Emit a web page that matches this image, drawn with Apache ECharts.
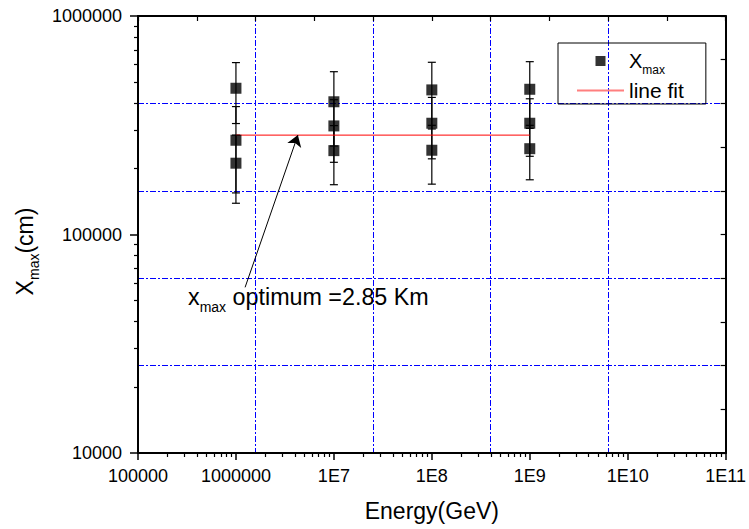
<!DOCTYPE html>
<html>
<head>
<meta charset="utf-8">
<script src="https://cdn.jsdelivr.net/npm/echarts@6/dist/echarts.min.js"></script>
<style>
  html, body { margin: 0; padding: 0; background: #fff; }
  #main { width: 749px; height: 529px; }
</style>
</head>
<body>
<div id="main"></div>
<script>
// energies (GeV) and the three Xmax points at each one (cm), with errors
var energy = [1e6, 1e7, 1e8, 1e9];
var xmaxA = [467000, 405000, 459000, 462000];
var errA  = [145000, 151000, 155000, 156000];
var xmaxB = [270000, 314000, 323000, 323000];
var errB  = [115000, 100000, 101000, 95000];
var xmaxC = [212000, 242000, 243000, 247000];
var errC  = [73000, 73000, 73000, 69000];

// horizontal fit
var fitX = [1e6, 1e9];
var fitY = [285000, 285000];

// arrow of the annotation (data coords)
var arrowFrom = [1.24e6, 57300];
var arrowTo = [4.29e6, 285000];

var xTickLabels = ['100000', '1000000', '1E7', '1E8', '1E9', '1E10', '1E11'];
var yTickLabels = ['10000', '100000', '1000000'];
var xMajor = [1e5, 1e6, 1e7, 1e8, 1e9, 1e10, 1e11];

var FONT = 'Liberation Sans, Arial, sans-serif';

// minor ticks 2..9 of every decade
function minorTicks(e0, e1) {
  var out = [];
  for (var e = e0; e < e1; e++) {
    for (var m = 2; m <= 9; m++) out.push(m * Math.pow(10, e));
  }
  return out;
}

var points = [];
var bars = [];
[[xmaxA, errA], [xmaxB, errB], [xmaxC, errC]].forEach(function (s) {
  for (var i = 0; i < energy.length; i++) {
    points.push([energy[i], s[0][i]]);
    bars.push([energy[i], s[0][i] - s[1][i], s[0][i] + s[1][i]]);
  }
});

function renderErr(params, api) {
  var x = api.value(0);
  var p1 = api.coord([x, api.value(2)]);
  var p2 = api.coord([x, api.value(1)]);
  var w = 4;
  var st = { stroke: '#000000', lineWidth: 1.2 };
  return {
    type: 'group',
    children: [
      { type: 'line', shape: { x1: p1[0], y1: p1[1], x2: p2[0], y2: p2[1] }, style: st },
      { type: 'line', shape: { x1: p1[0] - w, y1: p1[1], x2: p1[0] + w, y2: p1[1] }, style: st },
      { type: 'line', shape: { x1: p2[0] - w, y1: p2[1], x2: p2[0] + w, y2: p2[1] }, style: st }
    ]
  };
}

function blackLine() {
  return { show: true, onZero: false, lineStyle: { color: '#000000', width: 2 } };
}
function gridLine() {
  return { color: '#0000ff', width: 1, type: [6, 2, 2, 2] };
}
function empty() { return ''; }

var myChart = echarts.init(document.getElementById('main'), null, { renderer: 'svg' });
myChart.setOption({
  animation: false,
  textStyle: { fontFamily: FONT },
  grid: { left: 138, top: 16, width: 593, height: 437 },
  xAxis: [
    {
      type: 'log', min: 1e5, max: 1e11, position: 'bottom',
      axisLine: blackLine(),
      axisTick: { show: true, length: 7, customValues: xMajor, lineStyle: { color: '#000000', width: 1.5 } },
      axisLabel: {
        color: '#000', fontSize: 18, margin: 14, customValues: xMajor,
        formatter: function (v) { return xTickLabels[Math.round(Math.log10(v)) - 5]; }
      },
      splitLine: { show: false },
      name: 'Energy(GeV)', nameLocation: 'middle', nameGap: 46,
      nameTextStyle: { color: '#000', fontSize: 23 }
    },
    {
      type: 'log', min: 1e5, max: 1e11, position: 'bottom',
      axisLine: blackLine(),
      axisTick: { show: true, length: 4, customValues: minorTicks(5, 11), lineStyle: { color: '#000000', width: 1.2 } },
      axisLabel: { show: true, customValues: minorTicks(5, 11), formatter: empty },
      splitLine: { show: false }
    },
    {
      type: 'value', min: 0, max: 5, interval: 1, position: 'top',
      axisLine: blackLine(),
      axisTick: { show: true, inside: true, length: 5, lineStyle: { color: '#000000', width: 1.2 } },
      minorTick: { show: true, splitNumber: 2, length: 5, lineStyle: { color: '#000000', width: 1.2 } },
      axisLabel: { show: false },
      splitLine: { show: true, lineStyle: gridLine() }
    }
  ],
  yAxis: [
    {
      type: 'log', min: 1e4, max: 1e6, position: 'left',
      axisLine: blackLine(),
      axisTick: { show: true, length: 8, lineStyle: { color: '#000000', width: 1.5 } },
      axisLabel: {
        color: '#000', fontSize: 18, margin: 16,
        formatter: function (v) { return yTickLabels[Math.round(Math.log10(v)) - 4]; }
      },
      splitLine: { show: false },
      name: '{a|X}{s|max}{a|(cm)}', nameLocation: 'middle', nameRotate: 90, nameGap: 96,
      nameTextStyle: {
        color: '#000', padding: [0, 34, 0, 0],
        rich: {
          a: { fontSize: 23, lineHeight: 32, color: '#000', fontFamily: FONT },
          s: { fontSize: 14, lineHeight: 14, verticalAlign: 'bottom', color: '#000', fontFamily: FONT }
        }
      }
    },
    {
      type: 'log', min: 1e4, max: 1e6, position: 'left',
      axisLine: { show: false },
      axisTick: { show: true, length: 4, customValues: minorTicks(4, 6), lineStyle: { color: '#000000', width: 1.2 } },
      axisLabel: { show: false },
      splitLine: { show: false }
    },
    {
      type: 'value', min: 0, max: 5, interval: 1, position: 'right',
      axisLine: blackLine(),
      axisTick: { show: true, inside: true, length: 5, lineStyle: { color: '#000000', width: 1.2 } },
      minorTick: { show: true, splitNumber: 2, length: 5, lineStyle: { color: '#000000', width: 1.2 } },
      axisLabel: { show: false },
      splitLine: { show: true, lineStyle: gridLine() }
    }
  ],
  legend: {
    orient: 'vertical', left: 558, top: 43,
    padding: [8, 22, 3, 19], itemGap: 4, itemWidth: 47, itemHeight: 10,
    borderColor: '#000', borderWidth: 1, borderRadius: 0,
    data: [
      { name: 'Xmax', icon: 'path://M0,0L10,0L10,10L0,10Z', itemStyle: { color: '#000' } },
      { name: 'line fit', icon: 'path://M0,0L47,0L47,2L0,2Z', itemStyle: { color: '#ff7f7f' } }
    ],
    formatter: function (n) { return n === 'Xmax' ? '{a|X}{s|max}' : '{b|line fit}'; },
    textStyle: {
      rich: {
        a: { fontSize: 20, lineHeight: 30, color: '#000', fontFamily: FONT },
        s: { fontSize: 12, lineHeight: 12, verticalAlign: 'bottom', color: '#000', fontFamily: FONT },
        b: { fontSize: 21, lineHeight: 24, color: '#000', fontFamily: FONT }
      }
    }
  },
  graphic: [
    {
      type: 'text', x: 188, y: 297,
      style: {
        text: '{a|x}{s|max}{a| optimum =2.85 Km}',
        verticalAlign: 'middle',
        rich: {
          a: { fontSize: 23.3, lineHeight: 34, fill: '#000', fontFamily: FONT },
          s: { fontSize: 14, lineHeight: 14, verticalAlign: 'bottom', fill: '#000', fontFamily: FONT }
        }
      }
    }
  ],
  series: [
    {
      type: 'custom', name: 'err', xAxisIndex: 0, yAxisIndex: 0,
      renderItem: renderErr, encode: { x: 0, y: [1, 2] },
      data: bars, z: 2, silent: true
    },
    {
      type: 'line', name: 'line fit', xAxisIndex: 0, yAxisIndex: 0,
      data: fitX.map(function (x, i) { return [x, fitY[i]]; }),
      showSymbol: false, symbol: 'none',
      lineStyle: { color: '#ff0000', width: 1 },
      itemStyle: { color: '#ff0000' },
      z: 3,
      markLine: {
        silent: true, animation: false,
        symbol: ['none', 'arrow'], symbolSize: 11,
        label: { show: false },
        lineStyle: { color: '#000', width: 1, type: 'solid' },
        data: [[{ coord: arrowFrom }, { coord: arrowTo }]]
      }
    },
    {
      type: 'scatter', name: 'Xmax', xAxisIndex: 0, yAxisIndex: 0,
      symbol: 'rect', symbolSize: 11,
      itemStyle: { color: '#000' },
      data: points, z: 4
    }
  ]
});
</script>
</body>
</html>
